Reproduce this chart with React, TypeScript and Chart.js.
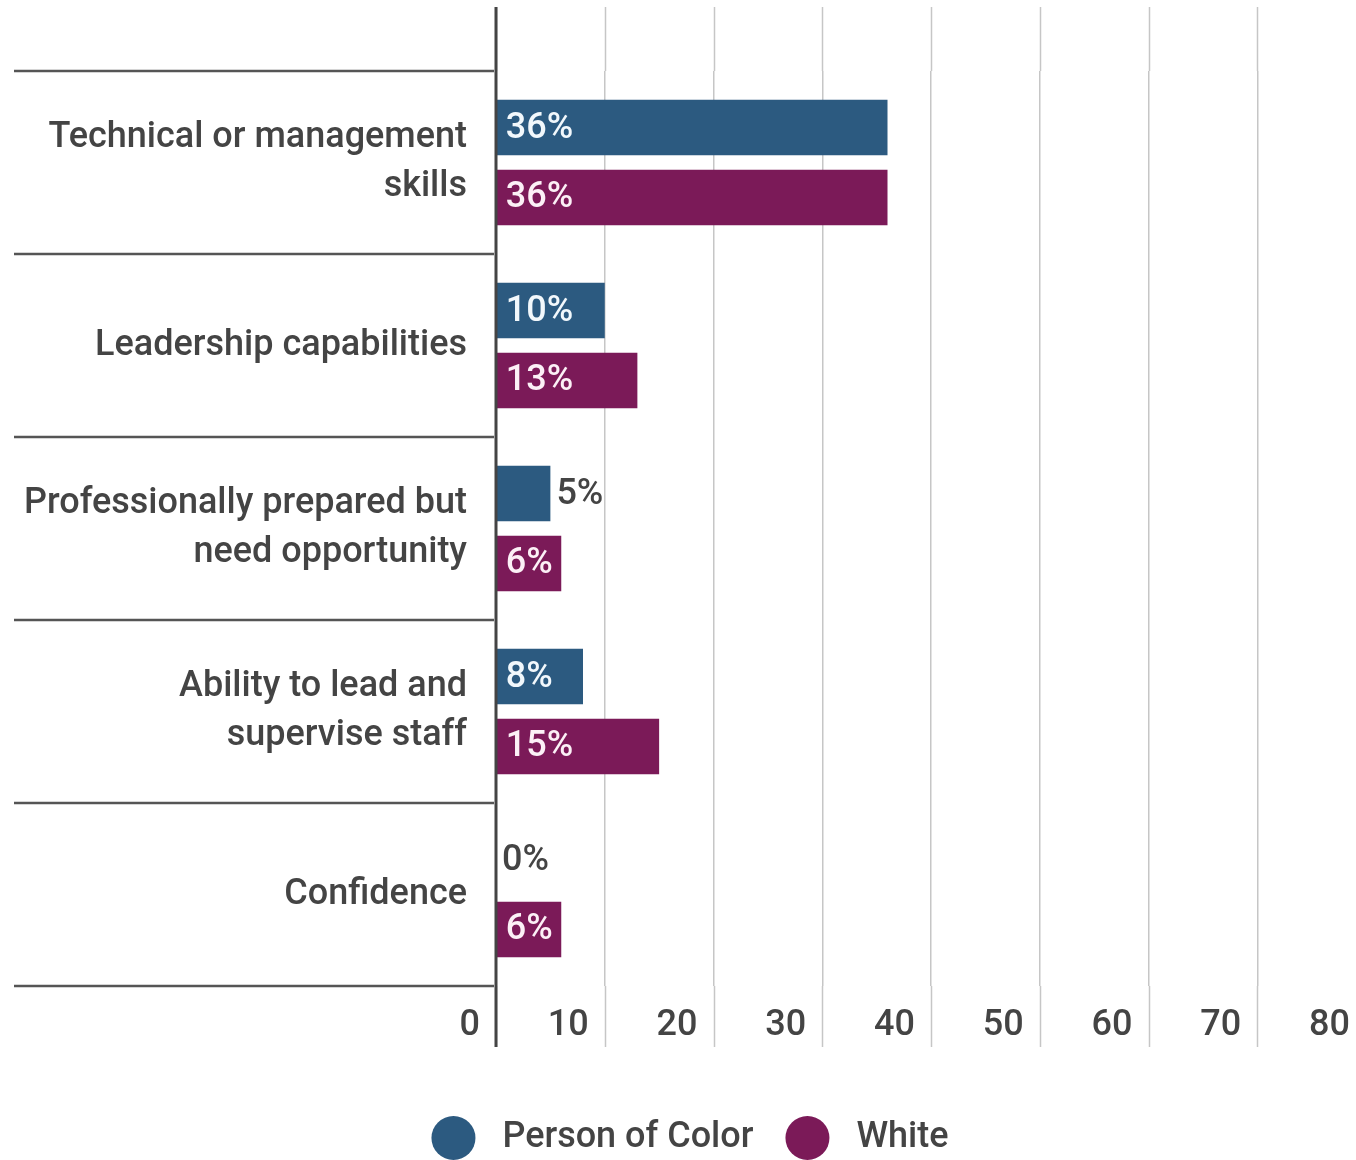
import React, { useEffect, useRef } from 'react';
import { Chart, registerables } from 'chart.js';

Chart.register(...registerables);

const categories: string[][] = [
  ['Technical or management', 'skills'],
  ['Leadership capabilities'],
  ['Professionally prepared but', 'need opportunity'],
  ['Ability to lead and', 'supervise staff'],
  ['Confidence'],
];
const seriesNames = ['Person of Color', 'White'];
const personOfColor = [36, 10, 5, 8, 0];
const white = [36, 13, 6, 15, 6];
const xTickLabels = ['0', '10', '20', '30', '40', '50', '60', '70', '80'];
const seriesColors = ['#2c5a80', '#7b1a58'];
const insideTextColors = ['#f2f8fc', '#fcf0f6'];

const TEXT = '#444444';
const FONT = 'Roboto';
const WEIGHT = 500;

const decorPlugin = {
  id: 'decor',
  beforeDatasetsDraw(chart: any) {
    const { ctx, chartArea, scales } = chart;
    const x = scales.x;
    const y = scales.y;
    const top = chartArea.top - 64;
    const bottom = chartArea.bottom + 61;
    ctx.save();
    ctx.strokeStyle = '#c6c6c6';
    ctx.lineWidth = 1.5;
    x.ticks.forEach((t: any) => {
      const px = Math.round(x.getPixelForValue(t.value)) + 0.5;
      ctx.beginPath();
      ctx.moveTo(px, top);
      ctx.lineTo(px, chartArea.top);
      ctx.moveTo(px, chartArea.bottom);
      ctx.lineTo(px, bottom);
      ctx.stroke();
    });
    ctx.strokeStyle = '#555555';
    ctx.lineWidth = 2.5;
    const n = categories.length;
    for (let i = 0; i <= n; i++) {
      const py = Math.round(y.getPixelForValue(i - 0.5));
      ctx.beginPath();
      ctx.moveTo(14, py);
      ctx.lineTo(chartArea.left - 2, py);
      ctx.stroke();
    }
    ctx.restore();
  },
  afterDatasetsDraw(chart: any) {
    const { ctx, chartArea, scales } = chart;
    const x = scales.x;
    const top = chartArea.top - 64;
    const bottom = chartArea.bottom + 61;
    ctx.save();
    ctx.font = `${WEIGHT} 36px ${FONT}`;
    ctx.textBaseline = 'middle';
    ctx.textAlign = 'left';
    chart.data.datasets.forEach((ds: any, di: number) => {
      const meta = chart.getDatasetMeta(di);
      meta.data.forEach((el: any, i: number) => {
        const v = ds.data[i];
        const label = `${v}%`;
        const w = ctx.measureText(label).width;
        const barW = el.x - el.base;
        if (barW >= w + 12) {
          ctx.fillStyle = insideTextColors[di];
          ctx.fillText(label, el.base + 9, el.y + 1);
        } else {
          ctx.fillStyle = TEXT;
          ctx.fillText(label, el.x + 6, el.y + 1);
        }
      });
    });
    const px0 = x.getPixelForValue(0);
    ctx.strokeStyle = '#444444';
    ctx.lineWidth = 3;
    ctx.beginPath();
    ctx.moveTo(px0, top);
    ctx.lineTo(px0, bottom);
    ctx.stroke();
    ctx.restore();
  },
};

export default function App() {
  const canvasRef = useRef<HTMLCanvasElement | null>(null);

  useEffect(() => {
    document.body.style.margin = '0';
    const canvas = canvasRef.current;
    if (!canvas) return;
    Chart.defaults.font.family = FONT;
    const chart = new Chart(canvas, {
      type: 'bar',
      data: {
        labels: categories,
        datasets: [
          {
            label: seriesNames[0],
            data: personOfColor,
            backgroundColor: seriesColors[0],
            barPercentage: 0.79,
            categoryPercentage: 0.765,
          },
          {
            label: seriesNames[1],
            data: white,
            backgroundColor: seriesColors[1],
            barPercentage: 0.79,
            categoryPercentage: 0.765,
          },
        ],
      },
      options: {
        indexAxis: 'y',
        responsive: false,
        animation: false,
        layout: { padding: { left: 14, right: 14, top: 71, bottom: 0 } },
        scales: {
          x: {
            type: 'linear',
            min: 0,
            max: 80,
            ticks: {
              stepSize: 10,
              align: 'end',
              labelOffset: -16,
              padding: 18,
              color: TEXT,
              font: { size: 36, family: FONT, weight: WEIGHT },
              callback: (_v: any, i: number) => xTickLabels[i],
            },
            grid: { color: '#c6c6c6', lineWidth: 1.5, drawTicks: false },
            border: { display: false },
            afterFit: (s: any) => {
              s.height = 102;
              s.paddingLeft = 0;
              s.paddingRight = 0;
            },
          },
          y: {
            ticks: {
              padding: 29,
              color: TEXT,
              font: { size: 36, family: FONT, weight: WEIGHT, lineHeight: 1.36 },
            },
            grid: { display: false, drawTicks: false },
            border: { display: false },
            afterFit: (s: any) => {
              s.width = 482;
            },
          },
        },
        plugins: {
          tooltip: { enabled: false },
          legend: {
            position: 'bottom',
            labels: {
              color: TEXT,
              font: { size: 36, family: FONT, weight: WEIGHT },
              usePointStyle: true,
              pointStyle: 'circle',
              pointStyleWidth: 44,
              boxHeight: 31,
              padding: 32,
              generateLabels: (c: any) => {
                const items = Chart.defaults.plugins.legend.labels.generateLabels(c);
                return items.map((it: any) => ({ ...it, text: ' ' + it.text, lineWidth: 0 }));
              },
            },
          },
        },
      },
      plugins: [decorPlugin],
    } as any);
    return () => chart.destroy();
  }, []);

  return (
    <div
      style={{
        position: 'fixed',
        left: 0,
        top: 0,
        width: 1356,
        height: 1160,
        overflow: 'hidden',
        background: '#ffffff',
      }}
    >
      <canvas ref={canvasRef} width={1380} height={1166} style={{ width: 1380, height: 1166 }} />
    </div>
  );
}
